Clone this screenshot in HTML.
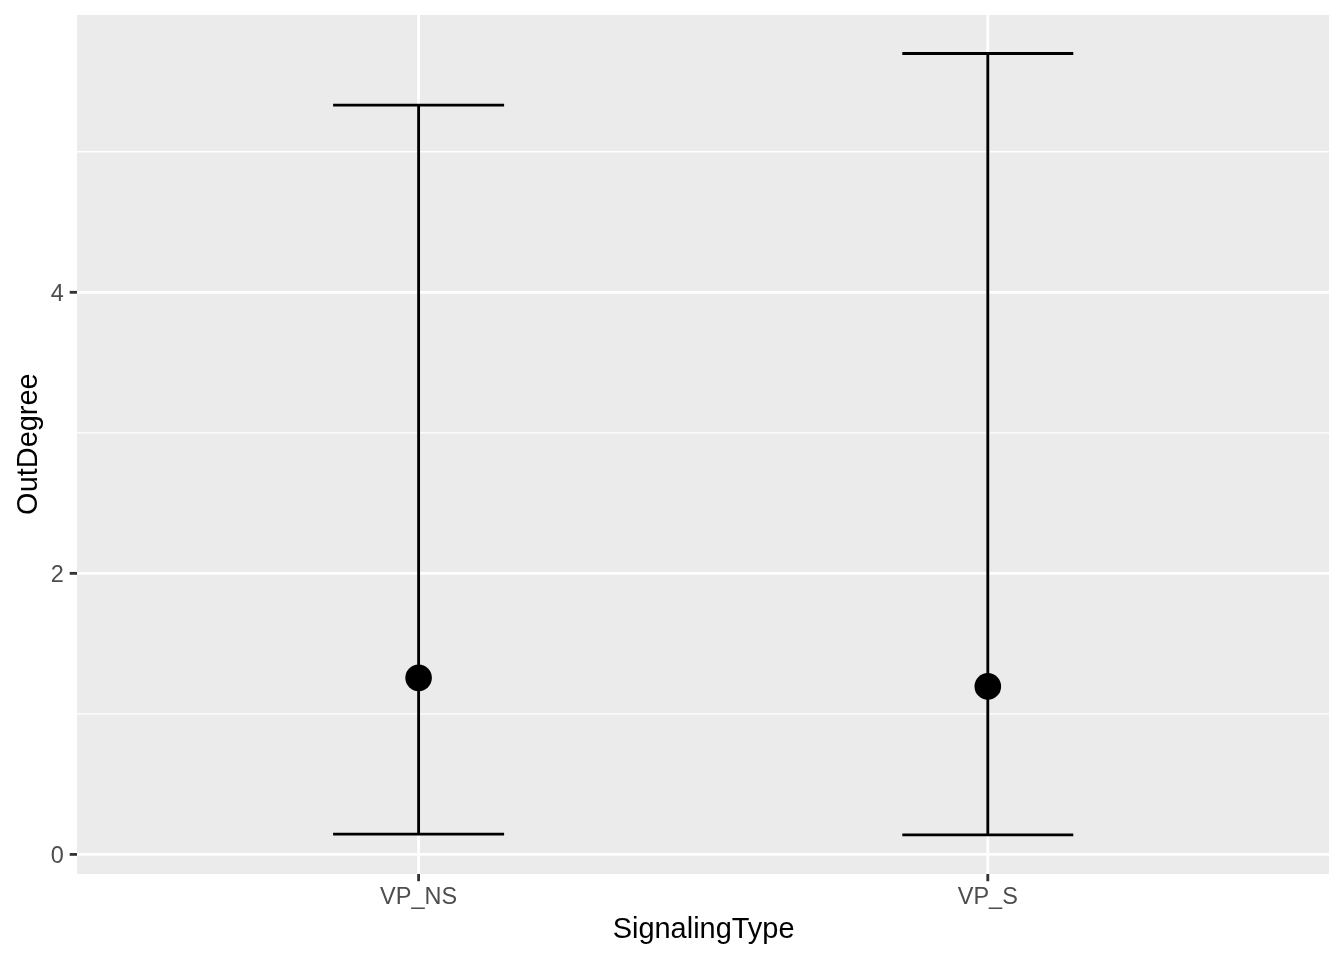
<!DOCTYPE html>
<html>
<head>
<meta charset="utf-8">
<title>OutDegree by SignalingType</title>
<style>
  html, body { margin: 0; padding: 0; background: #ffffff; }
  body { width: 1344px; height: 960px; overflow: hidden; }
  svg { display: block; will-change: transform; filter: grayscale(1); }
  text { font-family: "Liberation Sans", sans-serif; }
  .tick { font-size: 23.47px; fill: #4d4d4d; }
  .title { font-size: 29.33px; fill: #000000; }
</style>
</head>
<body>
<svg width="1344" height="960" viewBox="0 0 1344 960">
  <rect x="0" y="0" width="1344" height="960" fill="#ffffff"/>
  <!-- panel -->
  <rect x="77" y="15" width="1252" height="859" fill="#ebebeb"/>
  <!-- minor gridlines -->
  <g stroke="#ffffff" stroke-width="1.42">
    <line x1="77" x2="1329" y1="713.9" y2="713.9"/>
    <line x1="77" x2="1329" y1="432.85" y2="432.85"/>
    <line x1="77" x2="1329" y1="151.8" y2="151.8"/>
  </g>
  <!-- major gridlines -->
  <g stroke="#ffffff" stroke-width="2.85">
    <line x1="77" x2="1329" y1="854.4" y2="854.4"/>
    <line x1="77" x2="1329" y1="573.35" y2="573.35"/>
    <line x1="77" x2="1329" y1="292.3" y2="292.3"/>
    <line x1="418.6" x2="418.6" y1="15" y2="874"/>
    <line x1="987.8" x2="987.8" y1="15" y2="874"/>
  </g>
  <!-- error bars -->
  <g stroke="#000000" stroke-width="2.85" fill="none" stroke-linecap="butt" stroke-linejoin="miter">
    <path d="M333.1 105.15 H504.1 M418.6 105.15 V834.1 M333.1 834.1 H504.1"/>
    <path d="M902.3 53.5 H1073.3 M987.8 53.5 V834.8 M902.3 834.8 H1073.3"/>
  </g>
  <!-- points -->
  <circle cx="418.6" cy="677.85" r="13.3" fill="#000000"/>
  <circle cx="987.8" cy="686.4" r="13.3" fill="#000000"/>
  <!-- axis ticks -->
  <g stroke="#333333" stroke-width="2.85">
    <line x1="69.7" x2="77" y1="854.4" y2="854.4"/>
    <line x1="69.7" x2="77" y1="573.35" y2="573.35"/>
    <line x1="69.7" x2="77" y1="292.3" y2="292.3"/>
    <line x1="418.6" x2="418.6" y1="874" y2="881.2"/>
    <line x1="987.8" x2="987.8" y1="874" y2="881.2"/>
  </g>
  <!-- y tick labels -->
  <g class="tick" text-anchor="end">
    <text x="63.9" y="862.8">0</text>
    <text x="63.9" y="581.75">2</text>
    <text x="63.9" y="300.7">4</text>
  </g>
  <!-- x tick labels -->
  <g class="tick" text-anchor="middle">
    <text x="418.6" y="903.9">VP_NS</text>
    <text x="987.8" y="903.9">VP_S</text>
  </g>
  <!-- axis titles -->
  <text class="title" text-anchor="middle" transform="translate(703.6,937.9) scale(0.987,1.03)">SignalingType</text>
  <text class="title" text-anchor="middle" transform="translate(36.65,444.1) rotate(-90) scale(0.987,1.03)">OutDegree</text>
</svg>
</body>
</html>
